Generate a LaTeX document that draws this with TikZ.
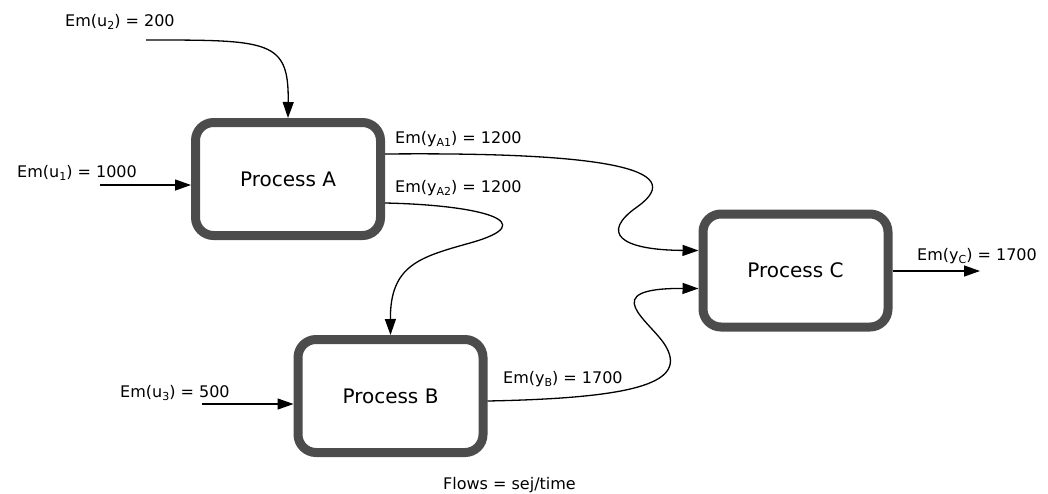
\documentclass[tikz,border=0pt]{standalone}
\usepackage{fontspec}
\setmainfont{DejaVu Sans}
\usetikzlibrary{arrows.meta}
\newcommand\lowsub[1]{\raisebox{-0.4ex}{\fontsize{11}{11}\selectfont#1}}
\tikzset{
  proc/.style={draw=gray!60!black, line width=9pt, rounded corners=18pt,
    minimum width=185pt, minimum height=113pt, font=\fontsize{20}{24}\selectfont},
  flow/.style={line width=1.3pt, -{Triangle[length=16pt,width=11pt]}},
  lbl/.style={anchor=base west, inner sep=0pt, font=\fontsize{16}{19}\selectfont}
}
\begin{document}
\begin{tikzpicture}[x=1pt,y=-1pt]
\useasboundingbox (0,0) rectangle (1048,493);
\node[proc] (A) at (288,179) {Process A};
\node[proc] (B) at (390.5,396) {Process B};
\node[proc] (C) at (795.5,270.5) {Process C};
\coordinate (u2) at (146,40);
\coordinate (u1) at (100,185);
\coordinate (u3) at (202,404);
\coordinate (yc) at (980,271);
\node[lbl] (lu2) at (65,26) {Em(u\lowsub{2}) = 200};
\node[lbl] (lu1) at (17,177) {Em(u\lowsub{1}) = 1000};
\node[lbl] (lu3) at (120,397) {Em(u\lowsub{3}) = 500};
\node[lbl] (lya1) at (395,143) {Em(y\lowsub{A1}) = 1200};
\node[lbl] (lya2) at (395,192) {Em(y\lowsub{A2}) = 1200};
\node[lbl] (lyb) at (503,383) {Em(y\lowsub{B}) = 1700};
\node[lbl] (lyc) at (917,260) {Em(y\lowsub{C}) = 1700};
\node[lbl] (units) at (443,489) {Flows = sej/time};
\draw[flow] (u2) .. controls (270,40) and (289,40) .. (A.north);
\draw[flow] (u1) -- (u1 -| A.west);
\draw[flow] (u3) -- (u3 -| B.west);
\draw[flow] (C.east |- yc) -- (yc);
\draw[flow] ([yshift=25pt]A.east) .. controls (600,152) and (692,168) .. (637,207)
  .. controls (600,233) and (620,250) .. ([yshift=20pt]C.west);
\draw[flow] ([yshift=-24pt]A.east) .. controls (480,205) and (545,222) .. (470,243)
  .. controls (420,257) and (390,265) .. (B.north);
\draw[flow] ([yshift=-5pt]B.east) .. controls (640,398) and (688,382) .. (665,345)
  .. controls (650,321) and (595,288) .. ([yshift=-18pt]C.west);
\end{tikzpicture}
\end{document}
